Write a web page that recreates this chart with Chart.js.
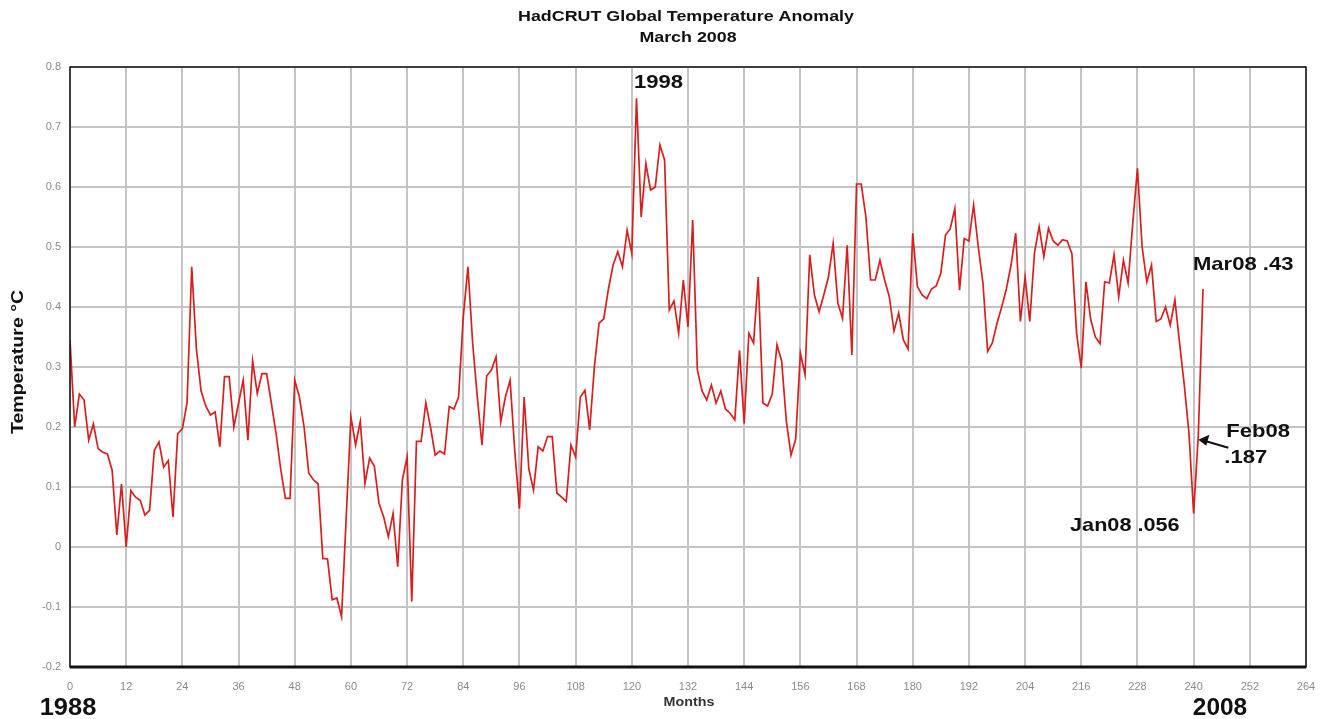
<!DOCTYPE html>
<html>
<head>
<meta charset="utf-8">
<script src="https://cdn.jsdelivr.net/npm/chart.js@4"></script>
<style>
  body { margin: 0; background: #fff; }
  #chart { display: block; }
</style>
</head>
<body>
<canvas id="chart" width="1334" height="719"></canvas>
<script>
// HadCRUT monthly anomaly, Jan 1988 (month 0) .. Mar 2008 (month 242)
const temps = [
  0.345, 0.20, 0.255, 0.245, 0.178, 0.205, 0.164, 0.158, 0.155, 0.128, 0.02, 0.105,
  0.0, 0.094, 0.083, 0.078, 0.053, 0.061, 0.161, 0.175, 0.133, 0.144, 0.05, 0.189,
  0.197, 0.24, 0.467, 0.33, 0.26, 0.235, 0.22, 0.225, 0.167, 0.284, 0.284, 0.2,
  0.24, 0.278, 0.178, 0.31, 0.256, 0.289, 0.289, 0.24, 0.19, 0.13, 0.081, 0.081,
  0.278, 0.25, 0.2, 0.123, 0.112, 0.105, -0.019, -0.02, -0.088, -0.085, -0.116, 0.05,
  0.217, 0.17, 0.209, 0.106, 0.148, 0.135, 0.073, 0.05, 0.017, 0.056, -0.033, 0.112,
  0.15, -0.091, 0.176, 0.176, 0.24, 0.2, 0.153, 0.16, 0.155, 0.234, 0.23, 0.25,
  0.384, 0.467, 0.34, 0.25, 0.17, 0.285, 0.295, 0.317, 0.209, 0.25, 0.278, 0.16,
  0.064, 0.25, 0.13, 0.095, 0.167, 0.16, 0.184, 0.184, 0.09, 0.083, 0.076, 0.17,
  0.15, 0.25, 0.261, 0.195, 0.3, 0.373, 0.38, 0.43, 0.47, 0.492, 0.467, 0.528,
  0.489, 0.748, 0.55, 0.639, 0.595, 0.6, 0.67, 0.645, 0.395, 0.41, 0.356, 0.445,
  0.367, 0.545, 0.295, 0.26, 0.245, 0.27, 0.24, 0.26, 0.23, 0.223, 0.212, 0.328,
  0.206, 0.356, 0.34, 0.45, 0.24, 0.235, 0.255, 0.337, 0.31, 0.21, 0.153, 0.18,
  0.323, 0.287, 0.487, 0.42, 0.392, 0.42, 0.45, 0.506, 0.407, 0.381, 0.503, 0.32,
  0.605, 0.605, 0.55, 0.445, 0.445, 0.478, 0.445, 0.417, 0.36, 0.39, 0.345, 0.33,
  0.523, 0.434, 0.42, 0.414, 0.43, 0.435, 0.456, 0.52, 0.53, 0.564, 0.428, 0.514,
  0.51, 0.57, 0.5, 0.44, 0.326, 0.34, 0.373, 0.4, 0.43, 0.47, 0.523, 0.376,
  0.45, 0.376, 0.49, 0.534, 0.484, 0.531, 0.51, 0.503, 0.512, 0.51, 0.489, 0.356,
  0.298, 0.442, 0.38, 0.35, 0.339, 0.442, 0.44, 0.487, 0.417, 0.478, 0.44, 0.54,
  0.631, 0.5, 0.442, 0.47, 0.376, 0.38, 0.4, 0.37, 0.412, 0.34, 0.27, 0.19,
  0.056, 0.187, 0.43
];

// tick labels
const xTicks = [0, 12, 24, 36, 48, 60, 72, 84, 96, 108, 120, 132, 144, 156, 168, 180, 192, 204, 216, 228, 240, 252, 264];
const yTicks = [-0.2, -0.1, 0, 0.1, 0.2, 0.3, 0.4, 0.5, 0.6, 0.7, 0.8];

const titleLines = ['HadCRUT Global Temperature Anomaly', 'March 2008'];
const yTitle = 'Temperature \u00B0C';
const xTitle = 'Months';
const startYear = '1988';
const endYear = '2008';

// month index for each value
const months = temps.map((v, i) => i);

// text written on the plot, pinned to data points
const notes = [
  { month: 121, text: '1998' },
  { month: 242, text: 'Mar08 .43' },
  { month: 241, text: 'Feb08' },
  { month: 240, text: 'Jan08 .056' },
];

const FONT = '"Liberation Sans", Arial, sans-serif';

const setTicks = (list) => (scale) => {
  scale.ticks = list.map(v => ({ value: v }));
};

// text stretched sideways, the source picture is wider than its fonts
const stretchText = (ctx, text, x, y, sx, align) => {
  ctx.save();
  ctx.translate(x, y);
  ctx.scale(sx, 1);
  ctx.textAlign = align;
  ctx.fillText(text, 0, 0);
  ctx.restore();
};

// frame, titles and the labels on the plot
const decorations = {
  id: 'decorations',
  afterDraw(chart) {
    const { ctx, chartArea: a, scales: { x, y } } = chart;
    ctx.save();
    // black frame round the plot
    ctx.strokeStyle = '#111';
    ctx.lineWidth = 1.5;
    ctx.strokeRect(a.left, a.top, a.right - a.left, a.bottom - a.top);
    ctx.lineWidth = 3;
    ctx.beginPath();
    ctx.moveTo(a.left, a.bottom);
    ctx.lineTo(a.right, a.bottom);
    ctx.stroke();

    // title
    ctx.fillStyle = '#111';
    ctx.textBaseline = 'middle';
    ctx.font = 'bold 15px ' + FONT;
    stretchText(ctx, titleLines[0], 686, 17, 1.19, 'center');
    stretchText(ctx, titleLines[1], 688, 38, 1.19, 'center');

    // y axis title
    ctx.save();
    ctx.translate(19, 362);
    ctx.rotate(-Math.PI / 2);
    ctx.font = 'bold 16px ' + FONT;
    stretchText(ctx, yTitle, 0, 0, 1.22, 'center');
    ctx.restore();

    // x axis title and years
    ctx.font = 'bold 13px ' + FONT;
    ctx.fillStyle = '#333';
    stretchText(ctx, xTitle, 689, 702, 1.1, 'center');
    ctx.fillStyle = '#111';
    ctx.font = 'bold 24px ' + FONT;
    stretchText(ctx, startYear, 68, 708, 1.06, 'center');
    stretchText(ctx, endYear, 1220, 708, 1.02, 'center');

    // notes next to points
    const px = (m) => x.getPixelForValue(m);
    const py = (m) => y.getPixelForValue(temps[m]);
    ctx.font = 'bold 19px ' + FONT;
    stretchText(ctx, notes[0].text, px(notes[0].month) + 22, py(notes[0].month) - 15, 1.16, 'center');
    stretchText(ctx, notes[1].text, px(notes[1].month) - 10, py(notes[1].month) - 24, 1.16, 'left');
    stretchText(ctx, notes[2].text, px(notes[2].month) + 28, py(notes[2].month) - 3, 1.16, 'left');
    stretchText(ctx, '.' + String(temps[notes[2].month]).split('.')[1], px(notes[2].month) + 26, py(notes[2].month) + 23, 1.16, 'left');
    stretchText(ctx, notes[3].text, px(notes[3].month) - 14, py(notes[3].month) + 12, 1.14, 'right');

    // arrow to Feb08
    const ax = px(241), ay = py(241) + 5;
    ctx.strokeStyle = '#111';
    ctx.lineWidth = 2;
    ctx.beginPath();
    ctx.moveTo(ax + 30, ay + 8);
    ctx.lineTo(ax + 6, ay + 1);
    ctx.stroke();
    ctx.beginPath();
    ctx.moveTo(ax, ay);
    ctx.lineTo(ax + 11, ay - 5);
    ctx.lineTo(ax + 8, ay + 6);
    ctx.closePath();
    ctx.fill();
    ctx.restore();
  }
};

const tickFont = { family: FONT, size: 11 };

new Chart(document.getElementById('chart'), {
  type: 'line',
  data: {
    datasets: [{
      data: months.map((m, i) => ({ x: m, y: temps[i] })),
      borderColor: '#d62020',
      borderWidth: 1.7,
      pointRadius: 0,
      tension: 0,
      fill: false,
    }]
  },
  options: {
    responsive: false,
    animation: false,
    layout: { padding: { top: 67, right: 28, left: 0, bottom: 0 } },
    plugins: {
      legend: { display: false },
      title: { display: false },
      tooltip: { enabled: false },
    },
    scales: {
      x: {
        type: 'linear',
        min: 0,
        max: 264,
        afterBuildTicks: setTicks(xTicks),
        afterFit: (s) => { s.height = 52; },
        grid: { color: '#c4c4c4', lineWidth: 2, drawTicks: false },
        border: { display: false },
        ticks: { color: '#8a8a8a', font: tickFont, padding: 13, maxRotation: 0 },
      },
      y: {
        min: -0.2,
        max: 0.8,
        afterBuildTicks: setTicks(yTicks),
        afterFit: (s) => { s.width = 70; },
        grid: { color: '#c4c4c4', lineWidth: 2, drawTicks: false },
        border: { display: false },
        ticks: {
          color: '#8a8a8a',
          font: tickFont,
          padding: 9,
          callback: (v) => (Math.abs(v) < 1e-9 ? '0' : v.toFixed(1)),
        },
      },
    },
  },
  plugins: [decorations],
});
</script>
</body>
</html>
